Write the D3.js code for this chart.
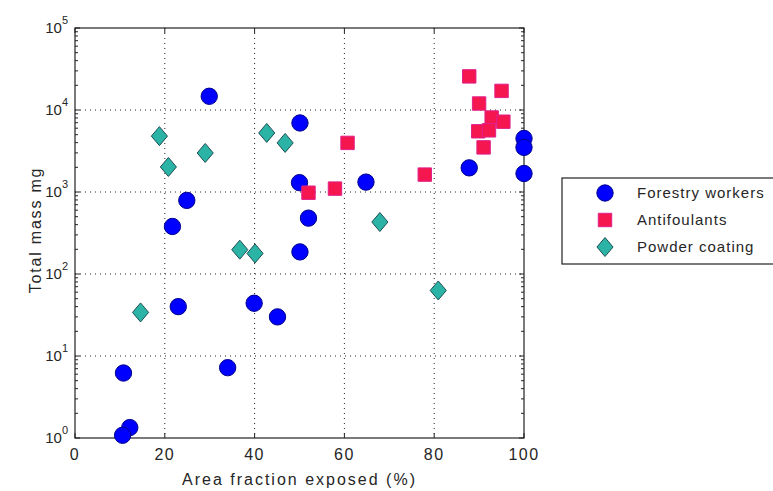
<!DOCTYPE html>
<html>
<head>
<meta charset="utf-8">
<script src="https://cdn.jsdelivr.net/npm/d3@7"></script>
<style>
  body { margin: 0; background: #fff; }
  text { font-family: "Liberation Sans", Arial, sans-serif; fill: #262626; }
</style>
</head>
<body>
<div id="chart"></div>
<script>
// data
var forestryX = [29.9, 50.1, 50, 52, 50.1, 24.9, 21.7, 23, 39.9, 45.1, 10.8, 34, 12.2, 10.6, 64.8, 87.8, 100, 100, 100];
var forestryY = [14700, 6950, 1300, 480, 186, 790, 380, 40, 44, 30, 6.2, 7.2, 1.34, 1.08, 1320, 1970, 4500, 3500, 1680];

var antiX = [87.8, 95, 90, 92.8, 95.4, 89.8, 92.2, 91, 60.7, 52, 57.9, 77.9];
var antiY = [25700, 17100, 12000, 8100, 7200, 5500, 5650, 3500, 3970, 980, 1100, 1630];

var powderX = [18.8, 29, 20.8, 42.7, 46.8, 36.7, 40.1, 67.9, 14.6, 80.9];
var powderY = [4800, 2990, 2020, 5250, 3970, 198, 178, 430, 34, 63];

var xTicks = [0, 20, 40, 60, 80, 100];
var yExponents = [0, 1, 2, 3, 4, 5];

var seriesNames = ["Forestry workers", "Antifoulants", "Powder coating"];

// set the dimensions and margins of the graph
var margin = {top: 28, right: 249, bottom: 53, left: 75},
    width = 773 - margin.left - margin.right,
    height = 491 - margin.top - margin.bottom;

var x = d3.scaleLinear().domain([0, 100]).range([0, width]);
var y = d3.scaleLog().domain([1, 100000]).range([height, 0]);

var svg = d3.select("#chart").append("svg")
    .attr("width", 773)
    .attr("height", 491);

var g = svg.append("g")
    .attr("transform", "translate(" + margin.left + "," + margin.top + ")");

// dotted grid at the major ticks
xTicks.slice(1, -1).forEach(function(t) {
  g.append("line")
    .attr("x1", x(t)).attr("x2", x(t))
    .attr("y1", 0).attr("y2", height)
    .attr("stroke", "#222").attr("stroke-width", 1)
    .attr("stroke-dasharray", "1,4");
});
yExponents.slice(1, -1).forEach(function(e) {
  g.append("line")
    .attr("x1", 0).attr("x2", width)
    .attr("y1", y(Math.pow(10, e))).attr("y2", y(Math.pow(10, e)))
    .attr("stroke", "#222").attr("stroke-width", 1)
    .attr("stroke-dasharray", "1,4");
});

// ticks (inward) on all four sides
var minor = [];
yExponents.slice(0, -1).forEach(function(e) {
  for (var m = 2; m <= 9; m++) minor.push(m * Math.pow(10, e));
});
function yTicksOn(xpos, dir) {
  yExponents.forEach(function(e) {
    var yy = y(Math.pow(10, e));
    g.append("line").attr("x1", xpos).attr("x2", xpos + dir * 5)
      .attr("y1", yy).attr("y2", yy).attr("stroke", "#222");
  });
  minor.forEach(function(v) {
    g.append("line").attr("x1", xpos).attr("x2", xpos + dir * 3)
      .attr("y1", y(v)).attr("y2", y(v)).attr("stroke", "#222");
  });
}
yTicksOn(0, 1);
yTicksOn(width, -1);
xTicks.forEach(function(t) {
  g.append("line").attr("x1", x(t)).attr("x2", x(t))
    .attr("y1", height).attr("y2", height - 5).attr("stroke", "#222");
  g.append("line").attr("x1", x(t)).attr("x2", x(t))
    .attr("y1", 0).attr("y2", 5).attr("stroke", "#222");
});

// frame
g.append("rect")
  .attr("width", width).attr("height", height)
  .attr("fill", "none").attr("stroke", "#222").attr("stroke-width", 1.2);

// tick labels
xTicks.forEach(function(t) {
  g.append("text")
    .attr("x", x(t)).attr("y", height + 22)
    .attr("text-anchor", "middle")
    .style("font-size", "16px")
    .style("letter-spacing", "1.5px")
    .text(t);
});
yExponents.forEach(function(e) {
  var lab = g.append("text")
    .attr("x", -7).attr("y", y(Math.pow(10, e)) + 5)
    .attr("text-anchor", "end")
    .style("font-size", "15px");
  lab.append("tspan").text("10");
  lab.append("tspan").attr("dy", -9).style("font-size", "11px").text(e);
});

// axis titles
g.append("text")
  .attr("x", width / 2).attr("y", height + 47)
  .attr("text-anchor", "middle")
  .style("font-size", "16px")
  .style("letter-spacing", "2px")
  .text("Area fraction exposed (%)");

g.append("text")
  .attr("transform", "rotate(-90)")
  .attr("x", -height / 2 + 3).attr("y", -34)
  .attr("text-anchor", "middle")
  .style("font-size", "16px")
  .style("letter-spacing", "1.8px")
  .text("Total mass mg");

// markers
var circleSym = d3.symbol().type(d3.symbolCircle).size(210);
var squareSym = d3.symbol().type(d3.symbolSquare).size(180);
function diamondPath(s) {
  var w = s * 0.85, h = s;
  return "M0," + (-h) + "L" + w + ",0L0," + h + "L" + (-w) + ",0Z";
}

function drawSeries(xs, ys, pathD, fill, stroke) {
  var pts = xs.map(function(v, i) { return {x: v, y: ys[i]}; });
  g.selectAll(null).data(pts).enter().append("path")
    .attr("d", pathD)
    .attr("transform", function(d) { return "translate(" + x(d.x) + "," + y(d.y) + ")"; })
    .attr("fill", fill)
    .attr("stroke", stroke)
    .attr("stroke-width", 1);
}

drawSeries(forestryX, forestryY, circleSym(), "#0000ff", "#00008b");
drawSeries(antiX, antiY, squareSym(), "#f5154f", "#e0208a");
drawSeries(powderX, powderY, diamondPath(9.5), "#2bb3a6", "#1f4f55");

// legend
var leg = svg.append("g").attr("transform", "translate(562,178)");
leg.append("rect")
  .attr("width", 215).attr("height", 86)
  .attr("fill", "#fff").attr("stroke", "#222").attr("stroke-width", 1.2);

var legShapes = [
  {d: circleSym(), fill: "#0000ff", stroke: "#00008b"},
  {d: squareSym(), fill: "#f5154f", stroke: "#e0208a"},
  {d: diamondPath(9.5), fill: "#2bb3a6", stroke: "#1f4f55"}
];
var legRows = [15, 42, 69];
seriesNames.forEach(function(name, i) {
  leg.append("path")
    .attr("d", legShapes[i].d)
    .attr("transform", "translate(43," + legRows[i] + ")")
    .attr("fill", legShapes[i].fill)
    .attr("stroke", legShapes[i].stroke);
  leg.append("text")
    .attr("x", 75).attr("y", legRows[i] + 5)
    .style("font-size", "15px")
    .style("letter-spacing", "1px")
    .text(name);
});
</script>
</body>
</html>
